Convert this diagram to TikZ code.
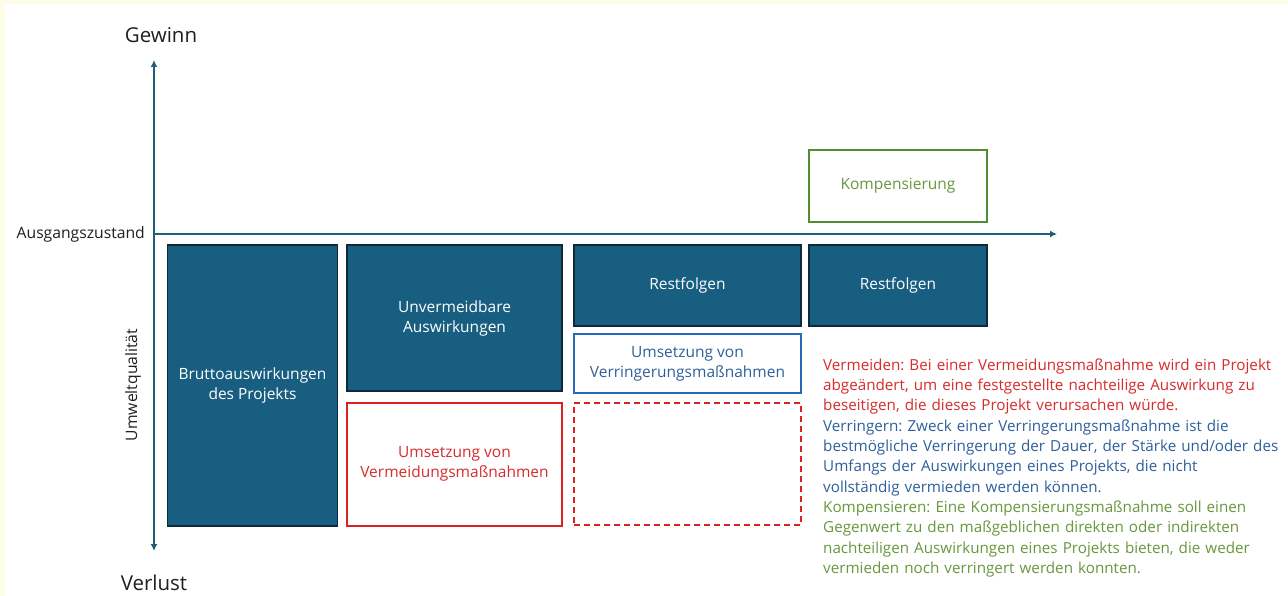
\documentclass[tikz,border=0pt]{standalone}
\usepackage{fontspec}
\setmainfont{Open Sans}
\usetikzlibrary{arrows.meta}
\definecolor{boxblue}{RGB}{24,94,128}
\definecolor{boxedge}{RGB}{14,42,58}
\definecolor{axiscol}{RGB}{30,96,122}
\definecolor{myred}{RGB}{222,32,32}
\definecolor{myredtext}{RGB}{214,44,44}
\definecolor{myblue}{RGB}{40,104,184}
\definecolor{mybluetext}{RGB}{46,96,156}
\definecolor{mygreen}{RGB}{84,140,52}
\definecolor{mygreentext}{RGB}{104,152,62}
\definecolor{labelcol}{RGB}{32,32,32}
\definecolor{bgyellow}{RGB}{254,254,232}
\tikzset{
  boxfont/.style={font=\fontsize{15.5}{20}\selectfont},
  darkbox/.style={boxfont, draw=boxedge, fill=boxblue, line width=1.5pt, text=white, align=center, inner sep=0pt},
  avoidbox/.style={boxfont, draw=myred, line width=2pt, text=myredtext, align=center, inner sep=0pt},
  avoiddash/.style={draw=myred, line width=2pt, dash pattern=on 6pt off 4pt, inner sep=0pt},
  reducebox/.style={boxfont, draw=myblue, line width=2pt, text=mybluetext, align=center, inner sep=0pt},
  compbox/.style={boxfont, draw=mygreen, line width=2pt, text=mygreentext, align=center, inner sep=0pt},
  axis/.style={draw=axiscol, line width=2pt, arrows={-Latex[length=7pt,width=7pt]}},
  axislabel/.style={text=labelcol, inner sep=0pt},
}
\begin{document}
\frenchspacing
\begin{tikzpicture}[x=1pt,y=-1pt]
\useasboundingbox (0,0) rectangle (1288,596);
\fill[white] (0,0) rectangle (1288,596);
\fill[bgyellow] (0,0) rectangle (1288,4);
\fill[bgyellow] (0,0) rectangle (5,596);

% axes
\coordinate (O) at (154,234);
\coordinate (ytop) at (154,60);
\coordinate (ybot) at (154,551);
\coordinate (xend) at (1057,234);
\draw[axis] (O) -- (ytop);
\draw[axis] (O) -- (ybot);
\draw[axis] (O) -- (xend);

% axis labels
\node[axislabel, font=\fontsize{20.5}{24}\selectfont] (gewinn) at (161,35) {Gewinn};
\node[axislabel, font=\fontsize{20.5}{24}\selectfont] (verlust) at (154,583) {Verlust};
\node[axislabel, font=\fontsize{15.7}{18}\selectfont, anchor=east] (ausgang) at (145,234) {Ausgangszustand};
\node[axislabel, font=\fontsize{15.7}{18}\selectfont, rotate=90] (umwelt) at (133,385) {Umweltqualität};

% boxes
\node[darkbox, minimum width=170pt, minimum height=281pt] (brutto) at (252.5,385.5) {Bruttoauswirkungen\\des Projekts};
\node[darkbox, minimum width=215pt, minimum height=146pt] (unverm) at (454.5,318) {Unvermeidbare\\Auswirkungen};
\node[avoidbox, minimum width=215pt, minimum height=123pt] (vermeid) at (454.5,464) {Umsetzung von\\Vermeidungsmaßnahmen};
\node[darkbox, minimum width=227pt, minimum height=81pt] (rest1) at (687.5,285.5) {Restfolgen};
\node[reducebox, minimum width=227pt, minimum height=59pt] (verring) at (687.5,363.5) {Umsetzung von\\Verringerungsmaßnahmen};
\node[avoiddash, minimum width=227pt, minimum height=122pt] (vermeid2) at (687.5,464) {};
\node[darkbox, minimum width=178pt, minimum height=81pt] (rest2) at (898,285.5) {Restfolgen};
\node[compbox, minimum width=178pt, minimum height=72pt] (komp) at (898,186) {Kompensierung};

% explanation text
\node[anchor=north west, inner sep=0pt, text width=460pt, align=left, font=\fontsize{15.2}{20.3}\selectfont] (expl) at (823,358.5) {%
\color{myredtext}Vermeiden: Bei einer Vermeidungsmaßnahme wird ein Projekt\\
abgeändert, um eine festgestellte nachteilige Auswirkung zu\\
beseitigen, die dieses Projekt verursachen würde.\\
\color{mybluetext}Verringern: Zweck einer Verringerungsmaßnahme ist die\\
bestmögliche Verringerung der Dauer, der Stärke und/oder des\\
Umfangs der Auswirkungen eines Projekts, die nicht\\
vollständig vermieden werden können.\\
\color{mygreentext}Kompensieren: Eine Kompensierungsmaßnahme soll einen\\
Gegenwert zu den maßgeblichen direkten oder indirekten\\
nachteiligen Auswirkungen eines Projekts bieten, die weder\\
vermieden noch verringert werden konnten.};
\end{tikzpicture}
\end{document}
